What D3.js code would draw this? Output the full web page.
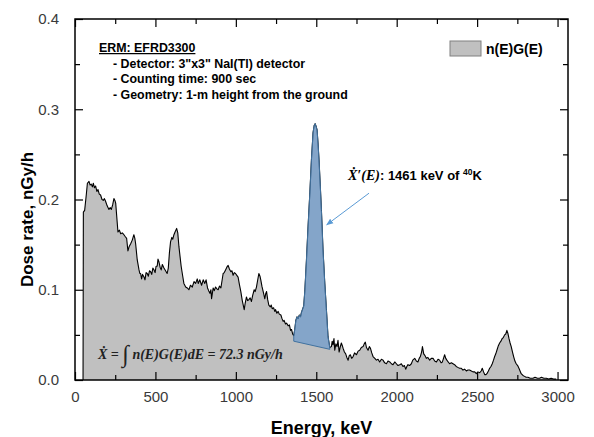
<!DOCTYPE html>
<html><head><meta charset="utf-8">
<script src="https://cdn.jsdelivr.net/npm/d3@7"></script>
<style>
html,body{margin:0;padding:0;background:#fff;}
svg{display:block;}
</style></head>
<body>
<svg id="chart" width="594" height="437"></svg>
<script>
// ---- Data ----
const energy = [50,52,60,70,77,87,94,101,108,114,121,128,136,143,151,159,168,176,183,190,200,211,219,226,234,242,248,253,260,267,276,284,294,304,312,321,329,337,346,356,366,372,377,387,398,403,408,414,420,429,435,442,449,456,463,470,477,484,491,498,504,511,516,522,529,536,543,553,563,573,580,587,594,602,608,615,622,632,639,646,653,660,667,677,688,698,708,718,729,740,750,760,766,776,787,797,807,815,824,831,839,845,849,854,859,866,874,882,890,898,907,914,921,928,936,944,952,960,969,976,983,990,998,1006,1014,1022,1031,1040,1052,1058,1066,1073,1081,1089,1097,1105,1114,1120,1128,1135,1143,1150,1155,1162,1170,1175,1180,1186,1191,1198,1205,1214,1220,1226,1235,1242,1247,1255,1263,1270,1280,1287,1294,1300,1309,1316,1325,1333,1340,1346,1353,1360,1367,1373,1380,1387,1395,1402,1408,1414,1422,1429,1439,1449,1460,1470,1480,1487,1493,1499,1505,1511,1517,1525,1532,1542,1553,1563,1573,1584,1594,1599,1604,1610,1615,1622,1629,1635,1642,1648,1656,1662,1667,1675,1683,1690,1698,1705,1712,1720,1729,1738,1750,1760,1770,1780,1791,1798,1805,1812,1822,1830,1837,1845,1853,1864,1874,1884,1894,1905,1915,1925,1936,1946,1957,1967,1977,1988,1998,2008,2019,2029,2039,2048,2056,2063,2070,2080,2091,2100,2112,2122,2132,2140,2147,2155,2160,2164,2168,2176,2184,2194,2205,2215,2226,2236,2247,2257,2267,2276,2284,2291,2298,2305,2312,2320,2329,2340,2350,2360,2370,2380,2391,2402,2412,2422,2433,2443,2453,2464,2474,2485,2495,2505,2516,2525,2532,2540,2547,2555,2561,2570,2578,2586,2594,2602,2609,2616,2623,2632,2640,2648,2656,2663,2671,2678,2685,2691,2698,2705,2712,2720,2727,2735,2743,2752,2760,2767,2774,2785,2795,2805,2816,2830,2847,2860,2875,2888,2900,2915,2930,2945,2960,2975,2992];
const doseRate = [0.000,0.186,0.188,0.205,0.218,0.220,0.216,0.217,0.214,0.218,0.213,0.215,0.209,0.211,0.206,0.205,0.200,0.199,0.201,0.198,0.193,0.189,0.191,0.189,0.194,0.201,0.199,0.196,0.180,0.164,0.166,0.162,0.163,0.161,0.159,0.157,0.143,0.148,0.151,0.155,0.161,0.157,0.151,0.133,0.122,0.118,0.118,0.112,0.117,0.114,0.111,0.119,0.118,0.115,0.121,0.120,0.117,0.124,0.122,0.119,0.126,0.126,0.134,0.131,0.125,0.122,0.128,0.124,0.121,0.118,0.124,0.141,0.153,0.158,0.156,0.161,0.164,0.168,0.163,0.148,0.137,0.126,0.118,0.107,0.103,0.102,0.100,0.105,0.103,0.109,0.107,0.112,0.107,0.111,0.105,0.111,0.107,0.111,0.102,0.099,0.096,0.100,0.090,0.096,0.102,0.099,0.103,0.101,0.100,0.104,0.102,0.110,0.118,0.119,0.122,0.125,0.127,0.123,0.120,0.121,0.116,0.119,0.118,0.116,0.114,0.106,0.098,0.088,0.078,0.085,0.092,0.088,0.089,0.091,0.087,0.094,0.100,0.098,0.103,0.110,0.118,0.115,0.111,0.104,0.098,0.094,0.090,0.096,0.098,0.089,0.083,0.081,0.083,0.079,0.080,0.076,0.078,0.074,0.076,0.073,0.072,0.068,0.065,0.066,0.062,0.063,0.060,0.061,0.055,0.056,0.051,0.049,0.057,0.066,0.070,0.068,0.072,0.070,0.075,0.078,0.082,0.099,0.133,0.170,0.207,0.244,0.274,0.282,0.284,0.281,0.277,0.262,0.244,0.215,0.188,0.144,0.107,0.078,0.048,0.036,0.037,0.043,0.039,0.046,0.033,0.040,0.037,0.044,0.031,0.036,0.041,0.038,0.035,0.031,0.029,0.025,0.022,0.027,0.028,0.024,0.026,0.030,0.028,0.032,0.033,0.036,0.037,0.040,0.042,0.036,0.033,0.037,0.035,0.030,0.026,0.024,0.022,0.023,0.020,0.023,0.022,0.019,0.018,0.021,0.020,0.018,0.017,0.020,0.018,0.016,0.017,0.018,0.015,0.016,0.012,0.015,0.017,0.016,0.018,0.022,0.024,0.021,0.020,0.024,0.026,0.031,0.037,0.033,0.029,0.027,0.024,0.025,0.022,0.024,0.024,0.021,0.020,0.023,0.022,0.019,0.020,0.024,0.028,0.024,0.022,0.020,0.018,0.019,0.018,0.017,0.015,0.014,0.013,0.013,0.011,0.012,0.010,0.011,0.011,0.010,0.009,0.009,0.007,0.009,0.008,0.010,0.013,0.009,0.006,0.006,0.007,0.010,0.013,0.015,0.018,0.022,0.026,0.029,0.033,0.038,0.041,0.043,0.046,0.047,0.050,0.051,0.055,0.052,0.046,0.041,0.037,0.031,0.026,0.021,0.018,0.016,0.013,0.010,0.007,0.005,0.004,0.003,0.003,0.002,0.002,0.003,0.002,0.002,0.003,0.002,0.002,0.001,0.002,0.001,0.001];

// 40K peak region (1461 keV) and its linear background line
const peakRange = [1360, 1584];
const peakBaseE = [1360, 1584];
const peakBaseV = [0.043, 0.034];

const xTicks = [0, 500, 1000, 1500, 2000, 2500, 3000];
const xMinor = [250, 750, 1250, 1750, 2250, 2750];
const yTicks = [0.0, 0.1, 0.2, 0.3, 0.4];
const yMinor = [0.05, 0.15, 0.25, 0.35];

const xTitle = "Energy, keV";
const yTitle = "Dose rate, nGy/h";
const legendLabel = "n(E)G(E)";
const noteTitle = "ERM: EFRD3300";
const noteLines = ["- Detector: 3\"x3\" NaI(Tl) detector", "- Counting time: 900 sec", "- Geometry: 1-m height from the ground"];

// ---- Layout ----
const svg = d3.select("#chart");
const L = 75, T = 19, R = 568, B = 380;
const x = d3.scaleLinear().domain([0, 3065]).range([L, R]);
const y = d3.scaleLinear().domain([0, 0.4]).range([B, T]);

const data = energy.map((e, i) => ({e, v: doseRate[i]}));

// spectrum area
svg.append("path").datum(data)
  .attr("d", d3.area().x(d => x(d.e)).y0(y(0)).y1(d => y(d.v)))
  .attr("fill", "#c0c0c0");
svg.append("path").datum(data)
  .attr("d", d3.line().x(d => x(d.e)).y(d => y(d.v)))
  .attr("fill", "none").attr("stroke", "#000").attr("stroke-width", 1.1).attr("stroke-linejoin", "round");

// peak polygon
const peakPts = [{e: peakBaseE[0], v: peakBaseV[0]}]
  .concat(data.filter(d => d.e >= peakRange[0] && d.e <= peakRange[1]))
  .concat([{e: peakBaseE[1], v: peakBaseV[1]}]);
svg.append("path")
  .attr("d", d3.line().x(d => x(d.e)).y(d => y(d.v))(peakPts) + "Z")
  .attr("fill", "rgb(100,150,205)").attr("fill-opacity", 0.66)
  .attr("stroke", "#41729f").attr("stroke-width", 1);

// axes (ticks inward)
const fmtY = d3.format(".1f");
svg.append("g").attr("transform", `translate(0,${B})`)
  .call(d3.axisBottom(x).tickValues(xTicks).tickSize(-8).tickPadding(11).tickFormat(d3.format("d")));
svg.append("g").attr("transform", `translate(0,${B})`)
  .call(d3.axisBottom(x).tickValues(xMinor).tickSize(-5).tickFormat(""));
svg.append("g").attr("transform", `translate(0,${T})`)
  .call(d3.axisTop(x).tickValues(xTicks).tickSize(-8).tickFormat(""));
svg.append("g").attr("transform", `translate(0,${T})`)
  .call(d3.axisTop(x).tickValues(xMinor).tickSize(-5).tickFormat(""));
svg.append("g").attr("transform", `translate(${L},0)`)
  .call(d3.axisLeft(y).tickValues(yTicks).tickSize(-8).tickPadding(16).tickFormat(fmtY));
svg.append("g").attr("transform", `translate(${L},0)`)
  .call(d3.axisLeft(y).tickValues(yMinor).tickSize(-5).tickFormat(""));
svg.append("g").attr("transform", `translate(${R},0)`)
  .call(d3.axisRight(y).tickValues(yTicks).tickSize(-8).tickFormat(""));
svg.append("g").attr("transform", `translate(${R},0)`)
  .call(d3.axisRight(y).tickValues(yMinor).tickSize(-5).tickFormat(""));
svg.selectAll(".domain").remove();
svg.selectAll(".tick line").attr("stroke", "#000").attr("stroke-width", 1.2);
svg.selectAll(".tick text").attr("font-family", "Liberation Sans, Arial, sans-serif")
  .attr("font-size", 15).attr("fill", "#3a3a3a");

// frame
svg.append("rect").attr("x", L).attr("y", T).attr("width", R - L).attr("height", B - T)
  .attr("fill", "none").attr("stroke", "#000").attr("stroke-width", 1.5);

const sans = "Liberation Sans, Arial, sans-serif";
// axis titles
svg.append("text").attr("x", (L + R) / 2).attr("y", 434)
  .attr("text-anchor", "middle").attr("font-family", sans)
  .attr("font-weight", "bold").attr("font-size", 18).text(xTitle);
svg.append("text").attr("transform", `translate(33,${(T + B) / 2 + 20}) rotate(-90)`)
  .attr("text-anchor", "middle").attr("font-family", sans)
  .attr("font-weight", "bold").attr("font-size", 17).text(yTitle);

// legend
svg.append("rect").attr("x", 450).attr("y", 41).attr("width", 31).attr("height", 15)
  .attr("fill", "#c0c0c0").attr("stroke", "#808080").attr("stroke-width", 1);
svg.append("text").attr("x", 486).attr("y", 53.5)
  .attr("font-family", sans).attr("font-weight", "bold")
  .attr("font-size", 14).text(legendLabel);

// note block
svg.append("text").attr("x", 99).attr("y", 52)
  .attr("font-family", sans).attr("font-weight", "bold").attr("font-size", 12.4)
  .attr("text-decoration", "underline").text(noteTitle);
noteLines.forEach((t, i) => {
  svg.append("text").attr("x", 113).attr("y", 67.5 + i * 15.6)
    .attr("font-family", sans).attr("font-weight", "bold").attr("font-size", 12.4).text(t);
});

// peak annotation
const pk = svg.append("text").attr("x", 348).attr("y", 180)
  .attr("font-family", sans).attr("font-weight", "bold").attr("font-size", 13);
pk.append("tspan").attr("font-family", "Liberation Serif, Times New Roman, serif")
  .attr("font-style", "italic").attr("font-size", 14).text("\u1E8A\u2032(E)");
pk.append("tspan").text(": 1461 keV of ");
pk.append("tspan").attr("font-size", 8.5).attr("dy", -5).text("40");
pk.append("tspan").attr("dy", 5).text("K");

// arrow
const defs = svg.append("defs");
defs.append("marker").attr("id", "ah").attr("viewBox", "0 0 10 10")
  .attr("refX", 9).attr("refY", 5).attr("markerWidth", 7).attr("markerHeight", 7)
  .attr("orient", "auto").append("path").attr("d", "M0,1 L10,5 L0,9 Z").attr("fill", "#5b9bd5");
svg.append("line")
  .attr("x1", x(1828)).attr("y1", y(0.207)).attr("x2", x(1565)).attr("y2", y(0.172))
  .attr("stroke", "#5b9bd5").attr("stroke-width", 1).attr("marker-end", "url(#ah)");

// formula
const f = svg.append("text").attr("x", 98).attr("y", 359)
  .attr("font-family", "Liberation Serif, Times New Roman, serif")
  .attr("font-weight", "bold").attr("font-style", "italic").attr("font-size", 14).attr("fill", "#222");
f.append("tspan").text("\u1E8A = ");
f.append("tspan").attr("font-style", "normal").attr("font-weight", "normal").attr("font-size", 24).attr("dy", 3).text("\u222B");
f.append("tspan").attr("dy", -3).text(" n(E)G(E)dE = 72.3 nGy/h");
</script>
</body></html>
